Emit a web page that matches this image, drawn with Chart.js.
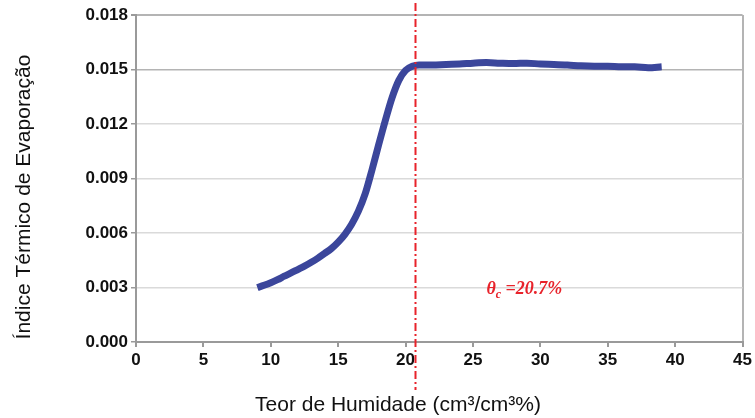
<!DOCTYPE html>
<html>
<head>
<meta charset="utf-8">
<script src="https://cdn.jsdelivr.net/npm/chart.js@4.4.1/dist/chart.umd.min.js"></script>
<style>
  html, body { margin: 0; padding: 0; background: #fff; }
  #wrap { width: 755px; height: 418px; position: relative; }
</style>
</head>
<body>
<div id="wrap"><canvas id="chart"></canvas></div>
<script>
// Teor de humidade (%) e índice térmico de evaporação
const moisture = [9, 9.5, 10, 10.5, 11, 11.5, 12, 12.5, 13, 13.5, 14, 14.5, 15, 15.5, 16, 16.5,
    17, 17.5, 18, 18.5, 19, 19.5, 20, 20.5, 21, 22, 23, 24, 25, 26, 27, 28, 29, 30, 31, 32,
    33, 34, 35, 36, 37, 38, 39];
const evapIndex = [0.00300, 0.00312, 0.00326, 0.00343, 0.00362, 0.00380, 0.00399, 0.00418,
    0.00439, 0.00462, 0.00488, 0.00515, 0.00550, 0.00593, 0.00648, 0.00720, 0.00815, 0.00945,
    0.01085, 0.01220, 0.01345, 0.01440, 0.01495, 0.01518, 0.01525, 0.01525, 0.01528, 0.0153,
    0.01535, 0.01538, 0.01535, 0.01533, 0.01535, 0.0153, 0.01528, 0.01525, 0.0152, 0.01518,
    0.01518, 0.01515, 0.01515, 0.0151, 0.01515];
const yTicks = [0, 0.003, 0.006, 0.009, 0.012, 0.015, 0.018];
const xTicks = [0, 5, 10, 15, 20, 25, 30, 35, 40, 45];
const THETA_C = 20.7;

const BLUE = '#3b469b';
const RED = '#e8232b';
const TICK_FONT = { family: "'Liberation Sans Narrow', 'Liberation Sans', Arial, sans-serif", size: 17, weight: 'bold' };

// linha crítica, rótulo θc e títulos dos eixos
const extras = {
    id: 'extras',
    afterDatasetsDraw(chart) {
        const { ctx, scales: { x, y } } = chart;
        const px = Math.round(x.getPixelForValue(THETA_C)) + 0.5;
        ctx.save();
        ctx.strokeStyle = RED;
        ctx.lineWidth = 2;
        ctx.setLineDash([8, 3, 2, 3]);
        ctx.beginPath();
        ctx.moveTo(px, 3);
        ctx.lineTo(px, 390);
        ctx.stroke();
        ctx.setLineDash([]);

        // θc =20.7%
        ctx.fillStyle = RED;
        ctx.textBaseline = 'alphabetic';
        ctx.textAlign = 'left';
        let tx = x.getPixelForValue(26);
        const ty = y.getPixelForValue(0.003) + 6;
        ctx.font = "italic bold 18px 'Liberation Serif', serif";
        ctx.fillText('θ', tx, ty);
        tx += ctx.measureText('θ').width;
        ctx.font = "italic bold 12px 'Liberation Serif', serif";
        ctx.fillText('c', tx, ty + 4);
        tx += ctx.measureText('c').width;
        ctx.font = "italic bold 18px 'Liberation Serif', serif";
        ctx.fillText(' =' + THETA_C + '%', tx, ty);

        // títulos
        ctx.fillStyle = '#111';
        ctx.font = "21px 'Liberation Sans', Arial, sans-serif";
        ctx.textAlign = 'center';
        ctx.textBaseline = 'middle';
        ctx.save();
        ctx.translate(24, 197);
        ctx.rotate(-Math.PI / 2);
        ctx.fillText('Índice Térmico de Evaporação', 0, 0);
        ctx.restore();
        ctx.fillText('Teor de Humidade (cm³/cm³%)', 398, 405);
        ctx.restore();
    }
};

new Chart(document.getElementById('chart'), {
    type: 'line',
    data: {
        datasets: [{
            data: moisture.map((m, i) => ({ x: m, y: evapIndex[i] })),
            borderColor: BLUE,
            borderWidth: 7,
            pointRadius: 0,
            cubicInterpolationMode: 'monotone',
            fill: false
        }]
    },
    options: {
        responsive: true,
        maintainAspectRatio: false,
        animation: false,
        layout: { padding: { left: 0, top: 15, right: 7, bottom: 0 } },
        plugins: { legend: { display: false }, tooltip: { enabled: false } },
        scales: {
            x: {
                type: 'linear',
                min: 0, max: 45,
                afterBuildTicks: s => { s.ticks = xTicks.map(v => ({ value: v })); },
                afterFit: s => { s.height = 76; },
                border: { color: '#9a9a9a', width: 2 },
                grid: {
                    color: c => (c.tick && c.tick.value === 45 ? '#b4b4b4' : 'rgba(0,0,0,0)'),
                    lineWidth: 2,
                    tickColor: '#9a9a9a',
                    tickLength: 5
                },
                ticks: { color: '#111', font: TICK_FONT, padding: 3, maxRotation: 0 }
            },
            y: {
                min: 0, max: 0.018,
                afterBuildTicks: s => { s.ticks = yTicks.map(v => ({ value: v })); },
                afterFit: s => { s.width = 136; },
                border: { color: '#9a9a9a', width: 2 },
                grid: {
                    color: c => (c.tick && (c.tick.value === 0.015 || c.tick.value === 0.018) ? '#b4b4b4' : '#dadada'),
                    lineWidth: c => (c.tick && c.tick.value === 0.018 ? 2 : 1.5),
                    tickColor: '#9a9a9a',
                    tickLength: 5
                },
                ticks: { color: '#111', font: TICK_FONT, padding: 3, callback: v => v.toFixed(3) }
            }
        }
    },
    plugins: [extras]
});
</script>
</body>
</html>
